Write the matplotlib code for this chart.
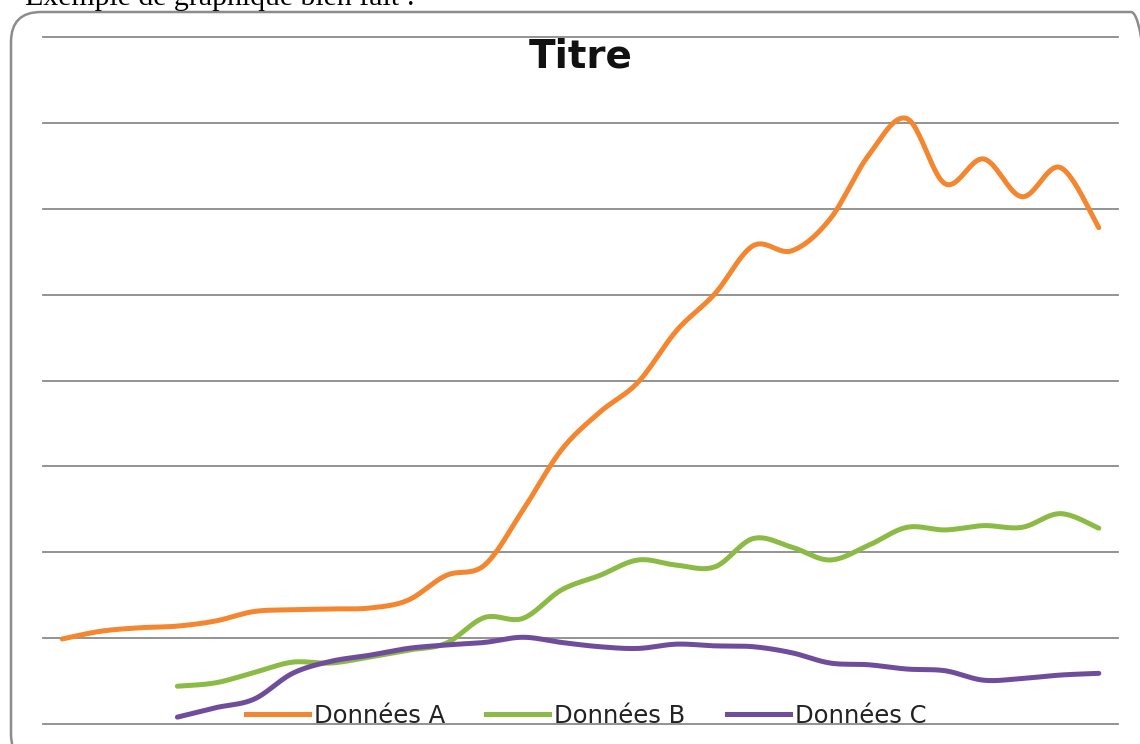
import numpy as np
import matplotlib
matplotlib.use("Agg")
import matplotlib.pyplot as plt
from matplotlib.patches import FancyBboxPatch
from matplotlib.transforms import IdentityTransform
from matplotlib.lines import Line2D

# ---- data ----
categories = list(range(28))
serie_a = [9.9, 10.8, 11.2, 11.4, 12.0, 13.1, 13.3, 13.4, 13.5, 14.4, 17.3, 18.5,
           24.9, 31.9, 36.3, 39.8, 45.8, 50.1, 55.7, 55.1, 58.8, 66.2, 70.5, 62.9,
           65.8, 61.4, 64.8, 57.8]
serie_b_start = 3
serie_b = [4.4, 4.8, 6.0, 7.2, 7.1, 7.8, 8.6, 9.4, 12.4, 12.3, 15.6, 17.3, 19.1,
           18.5, 18.3, 21.6, 20.6, 19.1, 20.8, 22.9, 22.6, 23.1, 22.9, 24.5, 22.8]
serie_c_start = 3
serie_c = [0.8, 1.9, 2.9, 5.9, 7.3, 8.0, 8.8, 9.2, 9.5, 10.1, 9.5, 9.0, 8.8, 9.3,
           9.1, 9.0, 8.3, 7.1, 6.9, 6.4, 6.2, 5.1, 5.3, 5.7, 5.9]
labels = ["Données A", "Données B", "Données C"]
colors = ["#F4862F", "#8CBB45", "#6F4D9C"]
gridvals = [0, 10, 20, 30, 40, 50, 60, 70, 80]
title = "Titre"
caption = "Exemple de graphique bien fait :"


def smooth(x, y, n=24):
    """Catmull-Rom (Excel-like smoothed line) through the given points."""
    x = np.asarray(x, float)
    y = np.asarray(y, float)
    px = np.concatenate([[x[0]], x, [x[-1]]])
    py = np.concatenate([[y[0]], y, [y[-1]]])
    xs, ys = [], []
    t = np.linspace(0, 1, n, endpoint=False)
    for i in range(1, len(px) - 2):
        p0x, p1x, p2x, p3x = px[i - 1], px[i], px[i + 1], px[i + 2]
        p0y, p1y, p2y, p3y = py[i - 1], py[i], py[i + 1], py[i + 2]
        c1x, c1y = p1x + (p2x - p0x) / 6, p1y + (p2y - p0y) / 6
        c2x, c2y = p2x - (p3x - p1x) / 6, p2y - (p3y - p1y) / 6
        b0 = (1 - t) ** 3
        b1 = 3 * (1 - t) ** 2 * t
        b2 = 3 * (1 - t) * t ** 2
        b3 = t ** 3
        xs.append(b0 * p1x + b1 * c1x + b2 * c2x + b3 * p2x)
        ys.append(b0 * p1y + b1 * c1y + b2 * c2y + b3 * p2y)
    xs.append([x[-1]])
    ys.append([y[-1]])
    return np.concatenate(xs), np.concatenate(ys)


W, H = 1140, 744
fig = plt.figure(figsize=(W / 100, H / 100), dpi=100)
fig.patch.set_facecolor("white")

# rounded frame (pixel coordinates, origin bottom-left)
frame = FancyBboxPatch((11, -20), 1150, H - 12 + 20,
                       boxstyle="round,pad=0,rounding_size=30",
                       transform=IdentityTransform(),
                       facecolor="none", edgecolor="#8c8c8c", linewidth=1.8)
fig.patches.append(frame)

ax = fig.add_axes([43 / W, (H - 724) / H, (1118 - 43) / W, (724 - 37) / H])
ax.set_xlim(-0.5, 27.5)
ax.set_ylim(0, 80)
ax.axis("off")

for g in gridvals:
    ax.axhline(g, color="#8a8a8a", linewidth=1.3, clip_on=False, zorder=1)

xa = categories
xb = categories[serie_b_start:serie_b_start + len(serie_b)]
xc = categories[serie_c_start:serie_c_start + len(serie_c)]
for xv, yv, c in [(xa, serie_a, colors[0]), (xb, serie_b, colors[1]), (xc, serie_c, colors[2])]:
    sx, sy = smooth(xv, yv)
    ax.plot(sx, sy, color=c, linewidth=3.6, solid_capstyle="round", zorder=3)

handles = [Line2D([0], [0], color=c, linewidth=3.6) for c in colors]
fig.legend(handles, labels, loc="center", ncol=3,
           bbox_to_anchor=(586 / W, (H - 716) / H),
           frameon=False, fontsize=17.5, handlelength=2.6, handletextpad=0.2,
           columnspacing=1.7, borderpad=0, labelcolor="#222222")

fig.text(581 / W, (H - 68) / H, title, ha="center", va="baseline",
         fontsize=28, fontweight="bold", color="#111111")

fig.text(25 / W, (H - 5) / H, caption, ha="left", va="baseline",
         fontsize=21.5, family="Liberation Serif", color="black")

fig.savefig("out.png", dpi=100)
